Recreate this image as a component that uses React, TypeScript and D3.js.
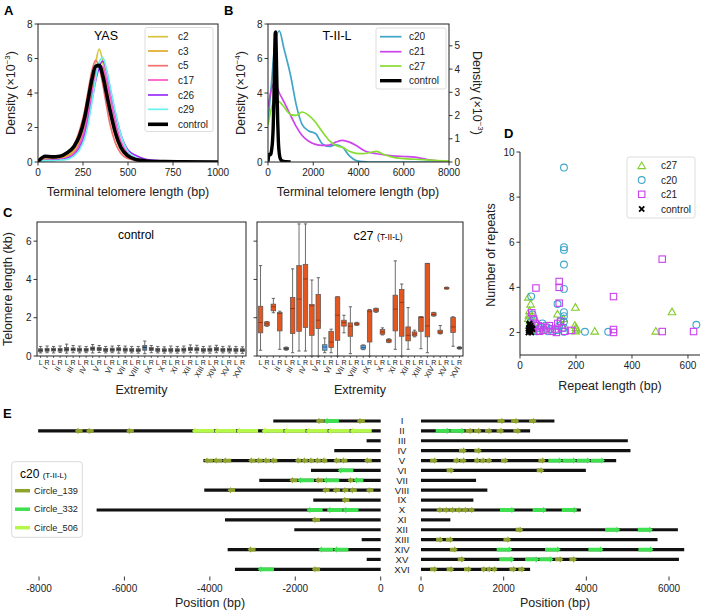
import React from 'react'
import * as d3 from 'd3'

const FONT = "'Liberation Sans', Arial, Helvetica, sans-serif"

// ---- A: terminal telomere length densities (YAS clones), x10^-3
const yasLen = [0, 40, 80, 120, 160, 200, 230, 260, 280, 300, 320, 340, 360, 380, 400, 430, 460, 500, 550, 600, 700, 800, 1000]
const yasNames = ['c2', 'c3', 'c5', 'c17', 'c26', 'c29', 'control']
const yasColors = ['#d8c43c', '#e3a92b', '#f2716f', '#ff52c8', '#9a2ffa', '#6cf2ee', '#000000']
const dC2 = [0, 0.15, 0.15, 0.2, 0.3, 0.6, 1.1, 2.0, 3.0, 4.3, 5.7, 6.55, 5.8, 4.4, 3.0, 1.5, 0.7, 0.3, 0.12, 0.06, 0.03, 0.01, 0]
const dC3 = [0, 0.2, 0.2, 0.25, 0.35, 0.7, 1.3, 2.2, 3.1, 4.2, 5.1, 5.6, 5.3, 4.4, 3.2, 1.8, 0.9, 0.35, 0.12, 0.06, 0.03, 0.01, 0]
const dC5 = [0, 0.25, 0.25, 0.3, 0.5, 1.0, 1.8, 3.0, 4.2, 5.3, 5.9, 5.5, 4.5, 3.3, 2.2, 1.1, 0.5, 0.2, 0.08, 0.04, 0.02, 0.01, 0]
const dC17 = [0, 0.1, 0.12, 0.15, 0.25, 0.5, 1.0, 1.9, 2.9, 4.0, 5.0, 5.6, 5.5, 4.8, 3.8, 2.3, 1.2, 0.5, 0.2, 0.1, 0.04, 0.02, 0]
const dC26 = [0, 0.1, 0.1, 0.12, 0.2, 0.4, 0.8, 1.6, 2.5, 3.6, 4.7, 5.5, 5.85, 5.3, 4.3, 2.8, 1.6, 0.7, 0.35, 0.15, 0.06, 0.02, 0]
const dC29 = [0, 0.08, 0.08, 0.1, 0.15, 0.35, 0.7, 1.4, 2.3, 3.5, 4.8, 5.8, 6.05, 5.4, 4.4, 2.9, 1.6, 0.6, 0.2, 0.08, 0.03, 0.01, 0]
const dCtrl = [0.02, 0.33, 0.3, 0.33, 0.52, 0.9, 1.5, 2.6, 3.7, 4.8, 5.55, 5.6, 5.0, 4.0, 3.0, 1.7, 0.85, 0.35, 0.13, 0.06, 0.02, 0.01, 0]
const yasDens = [dC2, dC3, dC5, dC17, dC26, dC29, dCtrl]

// ---- B: T-II-L clones, x10^-4 (control on the right axis, x10^-3)
const tLen = [0, 150, 300, 500, 700, 1000, 1250, 1500, 1800, 2100, 2400, 2700, 3000, 3300, 3600, 3900, 4200, 4500, 4800, 5100, 5500, 6000, 6500, 7000, 7500, 8000]
const tNames = ['c20', 'c21', 'c27']
const tColors = ['#3fa6c8', '#cc44ee', '#86dd33']
const dC20 = [2.3, 4.5, 6.8, 7.6, 6.6, 5.0, 3.3, 2.2, 1.8, 1.65, 1.05, 0.9, 1.0, 0.85, 0.35, 0.08, 0.02, 0, 0, 0, 0, 0, 0, 0, 0, 0]
const dC21 = [3.2, 4.2, 4.6, 4.0, 3.5, 2.7, 2.05, 1.55, 1.2, 1.02, 0.96, 0.98, 1.15, 1.25, 1.15, 0.95, 0.7, 0.55, 0.48, 0.42, 0.36, 0.32, 0.28, 0.15, 0.06, 0.03]
const dC27 = [2.15, 3.1, 3.65, 3.5, 3.2, 2.75, 2.7, 2.9, 2.7, 2.3, 1.75, 1.25, 0.95, 0.85, 0.62, 0.5, 0.48, 0.55, 0.62, 0.45, 0.28, 0.2, 0.16, 0.12, 0.08, 0.05]
const tDens = [dC20, dC21, dC27]

// ---- C: telomere length per extremity (kb): [low whisker, q1, median, q3, high whisker]
const chroms = ['I', 'II', 'III', 'IV', 'V', 'VI', 'VII', 'VIII', 'IX', 'X', 'XI', 'XII', 'XIII', 'XIV', 'XV', 'XVI']
const ctrlLo = [0.16, 0.17, 0.16, 0.18, 0.15, 0.17, 0.16, 0.17, 0.16, 0.18, 0.16, 0.17, 0.15, 0.16, 0.16, 0.15, 0.12, 0.17, 0.16, 0.15, 0.16, 0.15, 0.16, 0.17, 0.16, 0.16, 0.15, 0.17, 0.16, 0.16, 0.15, 0.14]
const ctrlQ1 = [0.22, 0.25, 0.26, 0.25, 0.26, 0.27, 0.25, 0.25, 0.3, 0.28, 0.24, 0.25, 0.27, 0.25, 0.24, 0.23, 0.3, 0.28, 0.24, 0.23, 0.24, 0.23, 0.25, 0.28, 0.27, 0.24, 0.25, 0.27, 0.24, 0.25, 0.24, 0.23]
const ctrlMed = [0.3, 0.32, 0.33, 0.32, 0.35, 0.34, 0.33, 0.32, 0.38, 0.36, 0.32, 0.33, 0.35, 0.33, 0.31, 0.3, 0.45, 0.36, 0.32, 0.3, 0.31, 0.3, 0.33, 0.36, 0.35, 0.31, 0.33, 0.35, 0.32, 0.33, 0.31, 0.3]
const ctrlQ3 = [0.38, 0.4, 0.41, 0.4, 0.44, 0.42, 0.41, 0.4, 0.47, 0.44, 0.4, 0.41, 0.43, 0.41, 0.39, 0.38, 0.55, 0.45, 0.4, 0.38, 0.39, 0.38, 0.41, 0.45, 0.43, 0.39, 0.41, 0.44, 0.4, 0.41, 0.39, 0.38]
const ctrlHi = [0.5, 0.52, 0.5, 0.52, 0.62, 0.55, 0.52, 0.5, 0.6, 0.55, 0.5, 0.52, 0.55, 0.52, 0.5, 0.5, 0.78, 0.55, 0.5, 0.48, 0.52, 0.5, 0.52, 0.58, 0.56, 0.5, 0.52, 0.56, 0.5, 0.52, 0.5, 0.48]
const c27Lo = [0.3, 1.55, 2.26, 0.35, 0.3, 0.17, 0.26, 0.26, 0, 0, 0.17, 0.17, 0, 1.21, 0.12, 1.6, 0.33, 0, 2.28, 1.1, 0.7, 0.35, 0, 0.35, 1.0, 0.38, 0.17, 2.08, 1.15, 3.5, 0.51, 0.36]
const c27Q1 = [1.21, 1.58, 2.36, 1.31, 0.33, 1.17, 1.29, 1.49, 1.08, 1.43, 0.3, 0.44, 0.82, 1.56, 1.03, 1.62, 0.36, 0.73, 2.31, 1.14, 0.72, 1.31, 1.03, 0.79, 1.05, 1.29, 1.0, 2.1, 1.17, 3.5, 1.22, 0.38]
const c27Med = [1.75, 1.68, 2.57, 2.22, 0.38, 2.48, 2.97, 4.02, 2.62, 1.87, 0.47, 0.73, 2.13, 1.75, 1.56, 1.68, 0.45, 2.31, 2.4, 1.26, 0.8, 2.45, 2.8, 1.08, 1.15, 2.01, 1.57, 2.17, 1.25, 3.54, 1.52, 0.42]
const c27Q3 = [2.6, 1.78, 2.71, 2.27, 0.45, 3.06, 4.72, 4.79, 2.69, 3.22, 0.59, 1.29, 3.09, 1.87, 1.73, 1.73, 0.56, 2.4, 2.48, 1.38, 0.87, 3.18, 3.48, 1.52, 1.26, 2.05, 4.84, 2.26, 1.35, 3.58, 2.01, 0.46]
const c27Hi = [4.72, 1.8, 3.01, 2.34, 0.47, 4.55, 6.9, 6.9, 3.97, 4.09, 0.94, 1.4, 3.09, 2.13, 2.57, 1.76, 0.58, 2.43, 2.5, 1.47, 0.9, 4.97, 3.76, 2.53, 1.35, 2.05, 4.84, 2.28, 1.59, 3.6, 2.05, 0.48]
// box fill category per extremity: 0 orange, 1 blue, 2 grey
const c27Kind = [0, 0, 0, 0, 2, 0, 0, 0, 0, 0, 1, 0, 0, 0, 0, 0, 1, 0, 0, 0, 0, 0, 0, 0, 0, 0, 0, 0, 0, 0, 0, 2]

// ---- D: tandem repeats [repeat length (bp), number of repeats]
const repC27 = [[30, 3.55], [38, 3.24], [34, 2.95], [32, 2.75], [30, 2.6], [36, 2.5], [40, 2.4], [33, 2.3], [45, 2.2], [38, 2.1], [50, 2.05], [60, 2.15], [42, 2.7], [134, 2.8], [198, 3.1], [196, 2.3], [200, 2.2], [202, 2.13], [198, 2.05], [267, 2.04], [485, 2.04], [543, 2.9], [155, 2.6], [150, 2.3], [90, 2.1]]
const repC20 = [[157, 9.31], [157, 5.78], [157, 5.66], [157, 5.01], [157, 3.93], [134, 3.26], [40, 3.6], [157, 2.9], [157, 2.72], [157, 2.47], [157, 2.2], [157, 2.03], [232, 2.03], [315, 2.03], [630, 2.34], [45, 2.8], [50, 2.6], [38, 2.45], [55, 2.3], [70, 2.2], [90, 2.3], [110, 2.15], [130, 2.1], [60, 2.05], [45, 2.1], [100, 2.05], [140, 2.3], [145, 2.5], [35, 2.2], [80, 2.4]]
const repC21 = [[57, 3.97], [140, 4.26], [140, 4.0], [140, 3.3], [334, 3.59], [508, 5.25], [508, 2.04], [620, 2.04], [334, 2.13], [334, 2.0], [184, 2.09], [42, 2.87], [48, 2.6], [55, 2.4], [65, 2.3], [75, 2.25], [85, 2.1], [95, 2.2], [105, 2.3], [115, 2.05], [125, 2.15], [135, 2.4], [145, 2.5], [150, 2.2], [70, 2.05], [40, 2.2], [160, 2.05], [130, 2.0]]
const repCtrl = [[30, 2.0], [32, 2.2], [34, 2.4], [36, 2.1], [38, 2.3], [40, 2.0], [42, 2.2], [35, 2.05], [33, 2.35], [45, 2.15], [37, 2.25], [31, 2.1]]

// ---- E: c20 chromosome ends, arm lengths (bp) and circle-derived insertions
const leftArm = [-2515, -8020, -330, -1087, -4150, -1632, -2843, -4131, -1578, -6651, -3646, -2023, -445, -3583, -328, -3412]
const rightArm = [3228, 2640, 5004, 5068, 4722, 3988, 1332, 1605, 1267, 3867, 710, 6215, 5722, 6368, 6240, 2640]
const circleNames = ['Circle_139', 'Circle_332', 'Circle_506']
const circleColors = ['#8da32d', '#3fe04f', '#b6f84a']
// [chromosome index, from, to, circle index, copies]
const inserts: number[][] = [
  [0, -1520, -1330, 0, 1], [0, -1330, -980, 1, 1], [0, -560, -370, 0, 1], [0, 1850, 2035, 0, 1], [0, 2180, 2375, 0, 1], [0, 2615, 2800, 0, 1],
  [1, -7160, -6980, 0, 1], [1, -6900, -6720, 0, 1], [1, -5960, -5780, 0, 1], [1, -4420, -2870, 2, 3], [1, -2790, -210, 2, 5],
  [1, 355, 1065, 1, 2], [1, 1080, 1265, 0, 1], [1, 1285, 1470, 0, 1], [1, 1550, 1725, 0, 1], [1, 1830, 2010, 0, 1], [1, 2235, 2420, 0, 1],
  [3, 920, 1105, 0, 1], [3, 1290, 1470, 0, 1],
  [4, -4140, -3500, 0, 3], [4, -3100, -2420, 0, 4], [4, -2010, -1250, 0, 5], [4, -1110, -780, 0, 2], [4, -390, -210, 0, 1],
  [4, 220, 405, 0, 1], [4, 785, 1105, 0, 2], [4, 1290, 1725, 0, 3], [4, 1935, 2115, 0, 1], [4, 2840, 3020, 0, 1], [4, 3080, 4450, 1, 4],
  [5, -1007, -640, 1, 1], [5, 620, 805, 0, 1], [5, 2800, 2985, 0, 1],
  [6, -2140, -1950, 0, 1], [6, -1950, -1560, 1, 1], [6, -1540, -1345, 0, 1], [6, -1345, -970, 1, 1], [6, -780, -640, 0, 1], [6, -640, -405, 1, 1],
  [7, -3590, -3410, 0, 1], [7, -1370, -1200, 0, 1], [7, -1125, -950, 0, 1], [7, -915, -755, 0, 1], [7, -735, -560, 0, 1], [7, -345, -170, 0, 1],
  [8, -915, -735, 0, 1],
  [9, -1735, -1360, 1, 1], [9, -1265, -520, 1, 2], [9, 380, 1305, 0, 6], [9, 1910, 2275, 1, 1], [9, 2700, 3040, 1, 1], [9, 3405, 3785, 1, 1],
  [10, -1615, -1420, 0, 1],
  [11, 2290, 2475, 0, 1], [11, 4455, 4820, 1, 1], [11, 5245, 5610, 1, 1],
  [12, 365, 540, 0, 1], [12, 600, 785, 0, 1], [12, 1995, 2180, 0, 1],
  [13, -3120, -2930, 0, 1], [13, -1460, -755, 1, 2], [13, 700, 890, 0, 1], [13, 1830, 2210, 1, 1], [13, 3000, 3380, 1, 1], [13, 4050, 4415, 1, 1], [13, 5260, 5625, 1, 1],
  [14, 890, 1065, 0, 1], [14, 1895, 2260, 1, 1], [14, 2520, 3205, 1, 2], [14, 3245, 3445, 0, 1], [14, 3590, 3770, 0, 1],
  [15, -2880, -2500, 1, 1], [15, -1615, -1420, 0, 1], [15, 220, 405, 0, 1], [15, 620, 805, 0, 1], [15, 1040, 1225, 0, 1], [15, 1455, 1855, 0, 3], [15, 2140, 2315, 0, 1], [15, 2355, 2520, 0, 1],
]

const TXT = '#222'

const Sup = ({ base, exp }: { base: string; exp: string }) => (
  <>
    {base}
    <tspan dy={-5} fontSize={8}>{exp}</tspan>
    <tspan dy={5}>)</tspan>
  </>
)

function Frame({ x0, x1, y0, y1 }: any) {
  return <rect x={x0} y={y0} width={x1 - x0} height={y1 - y0} fill="none" stroke="#222" strokeWidth={1} />
}

function YTicks({ scale, ticks, x, side = 'left', labels = true, size = 10 }: any) {
  const d = side === 'left' ? -1 : 1
  return (
    <g>
      {ticks.map((t: number) => (
        <g key={t}>
          <line x1={x} x2={x + d * 3.5} y1={scale(t)} y2={scale(t)} stroke="#222" strokeWidth={0.9} />
          {labels && (
            <text x={x + d * 5.5} y={scale(t)} dy="0.35em" textAnchor={side === 'left' ? 'end' : 'start'} fontSize={size} fill={TXT}>
              {t}
            </text>
          )}
        </g>
      ))}
    </g>
  )
}

function XTicks({ scale, ticks, y, size = 10, len = 3.5 }: any) {
  return (
    <g>
      {ticks.map((t: number) => (
        <g key={t}>
          <line x1={scale(t)} x2={scale(t)} y1={y} y2={y + len} stroke="#222" strokeWidth={0.9} />
          <text x={scale(t)} y={y + len + 10.5} textAnchor="middle" fontSize={size} fill={TXT}>
            {t}
          </text>
        </g>
      ))}
    </g>
  )
}

function PanelA() {
  const x = d3.scaleLinear().domain([0, 1000]).range([38, 218])
  const y = d3.scaleLinear().domain([0, 8]).range([162, 24])
  const line = d3.line<number>().x((_, i) => x(yasLen[i])).y((v) => y(v)).curve(d3.curveMonotoneX)
  const legY = [36.7, 51, 65.7, 80, 95, 109.3, 124.3]
  return (
    <g>
      <text x={4} y={15} fontSize={13} fontWeight="bold">A</text>
      <defs>
        <clipPath id="clipA"><rect x={38} y={24} width={180} height={138} /></clipPath>
      </defs>
      <g clipPath="url(#clipA)">
        {yasDens.map((d, i) => (
          <path key={i} d={line(d)!} fill="none" stroke={yasColors[i]} strokeWidth={i === 6 ? 3.6 : 1.7} />
        ))}
      </g>
      <Frame x0={38} x1={218} y0={24} y1={162} />
      <YTicks scale={y} ticks={[0, 2, 4, 6, 8]} x={38} />
      <XTicks scale={x} ticks={[0, 250, 500, 750, 1000]} y={162} />
      <text x={106} y={40} textAnchor="middle" fontSize={12.5}>YAS</text>
      <rect x={145} y={27.5} width={68} height={104} rx={2} fill="#fff" fillOpacity={0.85} stroke="#d4d4d4" strokeWidth={0.8} />
      {yasNames.map((n, i) => (
        <g key={n}>
          <line x1={148} x2={168} y1={legY[i]} y2={legY[i]} stroke={yasColors[i]} strokeWidth={i === 6 ? 3.6 : 1.7} />
          <text x={178} y={legY[i]} dy="0.35em" fontSize={10} fill={TXT}>{n}</text>
        </g>
      ))}
      <text transform="translate(15,93) rotate(-90)" textAnchor="middle" fontSize={12.5} fill={TXT}>
        <Sup base="Density (×10" exp="−3" />
      </text>
      <text x={128} y={196} textAnchor="middle" fontSize={12.5} fill={TXT}>Terminal telomere length (bp)</text>
    </g>
  )
}

function PanelB() {
  const x = d3.scaleLinear().domain([0, 8000]).range([268, 449])
  const y = d3.scaleLinear().domain([0, 8]).range([162, 24])
  const y2 = d3.scaleLinear().domain([0, 5.94]).range([162, 24])
  const line = d3.line<number>().x((_, i) => x(tLen[i])).y((v) => y(v)).curve(d3.curveMonotoneX)
  const ctrl = d3.line<number>().x((_, i) => x(yasLen[i])).y((v) => y2(v)).curve(d3.curveMonotoneX)
  const legY = [36.7, 51.7, 66, 80.7]
  return (
    <g>
      <text x={224} y={15} fontSize={13} fontWeight="bold">B</text>
      <defs>
        <clipPath id="clipB"><rect x={268} y={24} width={181} height={138} /></clipPath>
      </defs>
      <g clipPath="url(#clipB)">
        {tDens.map((d, i) => (
          <path key={i} d={line(d)!} fill="none" stroke={tColors[i]} strokeWidth={1.7} />
        ))}
        <path d={ctrl(dCtrl)!} fill="none" stroke="#000" strokeWidth={3.4} />
      </g>
      <Frame x0={268} x1={449} y0={24} y1={162} />
      <YTicks scale={y} ticks={[0, 2, 4, 6, 8]} x={268} />
      <YTicks scale={y2} ticks={[0, 1, 2, 3, 4, 5]} x={449} side="right" />
      <XTicks scale={x} ticks={[0, 2000, 4000, 6000, 8000]} y={162} />
      <text x={337} y={40} textAnchor="middle" fontSize={12.5}>T-II-L</text>
      <rect x={376} y={28} width={70} height={61} rx={2} fill="#fff" fillOpacity={0.85} stroke="#d4d4d4" strokeWidth={0.8} />
      {[...tNames, 'control'].map((n, i) => (
        <g key={n}>
          <line x1={380} x2={401.5} y1={legY[i]} y2={legY[i]} stroke={i === 3 ? '#000' : tColors[i]} strokeWidth={i === 3 ? 3.4 : 1.7} />
          <text x={409} y={legY[i]} dy="0.35em" fontSize={10} fill={TXT}>{n}</text>
        </g>
      ))}
      <text transform="translate(245,93) rotate(-90)" textAnchor="middle" fontSize={12.5} fill={TXT}>
        <Sup base="Density (×10" exp="−4" />
      </text>
      <text transform="translate(473,93) rotate(90)" textAnchor="middle" fontSize={12.5} fill={TXT}>
        <Sup base="Density (×10" exp="−3" />
      </text>
      <text x={358} y={196} textAnchor="middle" fontSize={12.5} fill={TXT}>Terminal telomere length (bp)</text>
    </g>
  )
}

function BoxPanel({ x0, x1, lo, q1, med, q3, hi, fills, meds, bw, labels, title }: any) {
  const y = d3.scaleLinear().domain([0, 7]).range([356, 222])
  const ext = chroms.flatMap((c) => [c + '-L', c + '-R'])
  const x = d3.scalePoint<string>().domain(ext).range([x0, x1]).padding(0.55)
  return (
    <g>
      <Frame x0={x0} x1={x1} y0={222} y1={356} />
      <YTicks scale={y} ticks={[0, 2, 4, 6]} x={x0} labels={labels} />
      {ext.map((e, i) => {
        const cx = x(e)!
        return (
          <g key={e}>
            <line x1={cx} x2={cx} y1={y(lo[i])} y2={y(q1[i])} stroke="#6e6e6e" strokeWidth={1} />
            <line x1={cx} x2={cx} y1={y(q3[i])} y2={y(hi[i])} stroke="#6e6e6e" strokeWidth={1} />
            <line x1={cx - 1.6} x2={cx + 1.6} y1={y(lo[i])} y2={y(lo[i])} stroke="#555" strokeWidth={0.9} />
            <line x1={cx - 1.6} x2={cx + 1.6} y1={y(hi[i])} y2={y(hi[i])} stroke="#555" strokeWidth={0.9} />
            <rect x={cx - bw / 2} y={y(q3[i])} width={bw} height={Math.max(1.5, y(q1[i]) - y(q3[i]))} fill={fills[i]} stroke="#555" strokeWidth={0.7} />
            <line x1={cx - bw / 2} x2={cx + bw / 2} y1={y(med[i])} y2={y(med[i])} stroke={meds[i]} strokeWidth={1} />
            <line x1={cx} x2={cx} y1={356} y2={358} stroke="#222" strokeWidth={0.7} />
            <text x={cx} y={364.5} textAnchor="middle" fontSize={7} fill={TXT}>{e.endsWith('L') ? 'L' : 'R'}</text>
          </g>
        )
      })}
      {chroms.map((c) => {
        const cx = (x(c + '-L')! + x(c + '-R')!) / 2
        return (
          <text key={c} transform={`translate(${cx + 2},367) rotate(-60)`} textAnchor="end" dy="0.3em" fontSize={7.5} fill={TXT}>
            {c}
          </text>
        )
      })}
      <text x={(x0 + x1) / 2} y={394} textAnchor="middle" fontSize={12.5} fill={TXT}>Extremity</text>
      {title}
    </g>
  )
}

function PanelC() {
  const ctrlFill = ctrlMed.map((_, i) => (i === 16 ? '#4f7ea6' : '#5c5c5c'))
  const ctrlMedC = ctrlMed.map(() => '#333')
  const kindFill = ['#e4561f', '#5aa6e6', '#6a6a6a']
  const kindMed = ['#9e3510', '#2a5f9e', '#333']
  return (
    <g>
      <text x={3} y={217} fontSize={13} fontWeight="bold">C</text>
      <BoxPanel
        x0={37} x1={246} lo={ctrlLo} q1={ctrlQ1} med={ctrlMed} q3={ctrlQ3} hi={ctrlHi}
        fills={ctrlFill} meds={ctrlMedC} bw={4} labels={true}
        title={<text x={136} y={239} textAnchor="middle" fontSize={12}>control</text>}
      />
      <BoxPanel
        x0={257} x1={463} lo={c27Lo} q1={c27Q1} med={c27Med} q3={c27Q3} hi={c27Hi}
        fills={c27Kind.map((k) => kindFill[k])} meds={c27Kind.map((k) => kindMed[k])} bw={4.6} labels={false}
        title={
          <text x={378} y={240} textAnchor="middle" fontSize={12.5}>
            c27 <tspan fontSize={8.5}>(T-II-L)</tspan>
          </text>
        }
      />
      <text transform="translate(12,289) rotate(-90)" textAnchor="middle" fontSize={12.5} fill={TXT}>Telomere length (kb)</text>
    </g>
  )
}

const triPath = (cx: number, cy: number) => `M${cx},${cy - 4}L${cx + 3.8},${cy + 2.6}L${cx - 3.8},${cy + 2.6}Z`

function PanelD() {
  const x = d3.scaleLinear().domain([0, 643]).range([520, 700])
  const y = d3.scaleLinear().domain([1, 10]).range([355, 152])
  const gC27 = '#80cc2a', gC20 = '#3fa6cc', gC21 = '#cc3ff0'
  return (
    <g>
      <text x={504} y={138} fontSize={13} fontWeight="bold">D</text>
      <line x1={520} x2={520} y1={152} y2={355} stroke="#222" />
      <line x1={520} x2={700} y1={355} y2={355} stroke="#222" />
      <YTicks scale={y} ticks={[2, 4, 6, 8, 10]} x={520} />
      <XTicks scale={x} ticks={[0, 200, 400, 600]} y={355} />
      {repC27.map(([a, b], i) => (
        <path key={'t' + i} d={triPath(x(a), y(b))} fill="none" stroke={gC27} strokeWidth={1.1} />
      ))}
      {repC20.map(([a, b], i) => (
        <circle key={'c' + i} cx={x(a)} cy={y(b)} r={3.4} fill="none" stroke={gC20} strokeWidth={1.1} />
      ))}
      {repC21.map(([a, b], i) => (
        <rect key={'s' + i} x={x(a) - 3.2} y={y(b) - 3.2} width={6.4} height={6.4} fill="none" stroke={gC21} strokeWidth={1.1} />
      ))}
      {repCtrl.map(([a, b], i) => (
        <path key={'x' + i} d={`M${x(a) - 2.6},${y(b) - 2.6}L${x(a) + 2.6},${y(b) + 2.6}M${x(a) - 2.6},${y(b) + 2.6}L${x(a) + 2.6},${y(b) - 2.6}`} stroke="#000" strokeWidth={1.8} />
      ))}
      <rect x={627} y={157} width={68} height={61} rx={2} fill="#fff" fillOpacity={0.85} stroke="#d4d4d4" strokeWidth={0.8} />
      <path d={triPath(641.7, 166)} fill="none" stroke={gC27} strokeWidth={1.1} />
      <circle cx={641.7} cy={180} r={3.4} fill="none" stroke={gC20} strokeWidth={1.1} />
      <rect x={638.5} y={191.1} width={6.4} height={6.4} fill="none" stroke={gC21} strokeWidth={1.1} />
      <path d="M639.1,206.4L644.3,211.6M639.1,211.6L644.3,206.4" stroke="#000" strokeWidth={1.8} />
      {['c27', 'c20', 'c21', 'control'].map((n, i) => (
        <text key={n} x={661} y={[165.7, 180, 194.3, 209][i]} dy="0.35em" fontSize={10} fill={TXT}>{n}</text>
      ))}
      <text transform="translate(495,255) rotate(-90)" textAnchor="middle" fontSize={12.5} fill={TXT}>Number of repeats</text>
      <text x={610} y={390} textAnchor="middle" fontSize={12.5} fill={TXT}>Repeat length (bp)</text>
    </g>
  )
}

// one arrow per circle copy, head pointing away from the centromere
function arrowPath(xa: number, xb: number, y: number, dir: number) {
  const h = 1.9, H = 3.3
  const hl = Math.min(3.6, Math.abs(xb - xa) * 0.6)
  if (dir > 0) {
    return `M${xa},${y - h}L${xb - hl},${y - h}L${xb - hl},${y - H}L${xb},${y}L${xb - hl},${y + H}L${xb - hl},${y + h}L${xa},${y + h}Z`
  }
  return `M${xb},${y - h}L${xa + hl},${y - h}L${xa + hl},${y - H}L${xa},${y}L${xa + hl},${y + H}L${xa + hl},${y + h}L${xb},${y + h}Z`
}

function PanelE() {
  const xL = d3.scaleLinear().domain([-8000, 0]).range([39, 380.7])
  const xR = d3.scaleLinear().domain([0, 6000]).range([421, 669])
  const y = d3.scalePoint<string>().domain(chroms).range([421, 569.3])
  return (
    <g>
      <text x={3} y={418} fontSize={13} fontWeight="bold">E</text>
      {chroms.map((c, i) => (
        <g key={c}>
          <line x1={xL(leftArm[i])} x2={xL(0)} y1={y(c)} y2={y(c)} stroke="#111" strokeWidth={3.2} />
          <line x1={xR(0)} x2={xR(rightArm[i])} y1={y(c)} y2={y(c)} stroke="#111" strokeWidth={3.2} />
          <text x={402} y={y(c)} dy="0.35em" textAnchor="middle" fontSize={9.6} fill={TXT}>{c}</text>
        </g>
      ))}
      {inserts.map(([ci, a, b, k, n], j) => {
        const sc = a < 0 ? xL : xR
        const dir = a < 0 ? -1 : 1
        const step = (b - a) / n
        const yy = y(chroms[ci])!
        return (
          <g key={j}>
            {d3.range(n).map((m) => (
              <path key={m} d={arrowPath(sc(a + m * step), sc(a + (m + 1) * step), yy, dir)} fill={circleColors[k]} />
            ))}
          </g>
        )
      })}
      {[-8000, -6000, -4000, -2000, 0].map((t) => (
        <g key={t}>
          <line x1={xL(t)} x2={xL(t)} y1={576.5} y2={580.5} stroke="#222" strokeWidth={0.9} />
          <text x={xL(t)} y={591.5} textAnchor="middle" fontSize={10} fill={TXT}>{t < 0 ? '-' + Math.abs(t) : t}</text>
        </g>
      ))}
      {[0, 2000, 4000, 6000].map((t) => (
        <g key={t}>
          <line x1={xR(t)} x2={xR(t)} y1={576.5} y2={580.5} stroke="#222" strokeWidth={0.9} />
          <text x={xR(t)} y={591.5} textAnchor="middle" fontSize={10} fill={TXT}>{t}</text>
        </g>
      ))}
      <text x={210} y={607} textAnchor="middle" fontSize={12.5} fill={TXT}>Position (bp)</text>
      <text x={555} y={607} textAnchor="middle" fontSize={12.5} fill={TXT}>Position (bp)</text>
      <rect x={11.7} y={461.7} width={70.6} height={75.6} rx={3} fill="#fff" stroke="#cfcfcf" strokeWidth={0.8} />
      <text x={20} y={477.5} fontSize={12}>
        c20 <tspan fontSize={8}>(T-II-L)</tspan>
      </text>
      {circleNames.map((n, i) => (
        <g key={n}>
          <line x1={15} x2={30} y1={490.7 + i * 18.5} y2={490.7 + i * 18.5} stroke={circleColors[i]} strokeWidth={3.5} />
          <text x={34} y={490.7 + i * 18.5} dy="0.35em" fontSize={9.2} fill={TXT}>{n}</text>
        </g>
      ))}
    </g>
  )
}

export default function App() {
  return (
    <svg width={705} height={611} style={{ position: 'absolute', left: 0, top: 0, background: '#fff' }} fontFamily={FONT}>
      <rect width={705} height={611} fill="#fff" />
      <PanelA />
      <PanelB />
      <PanelC />
      <PanelD />
      <PanelE />
    </svg>
  )
}
